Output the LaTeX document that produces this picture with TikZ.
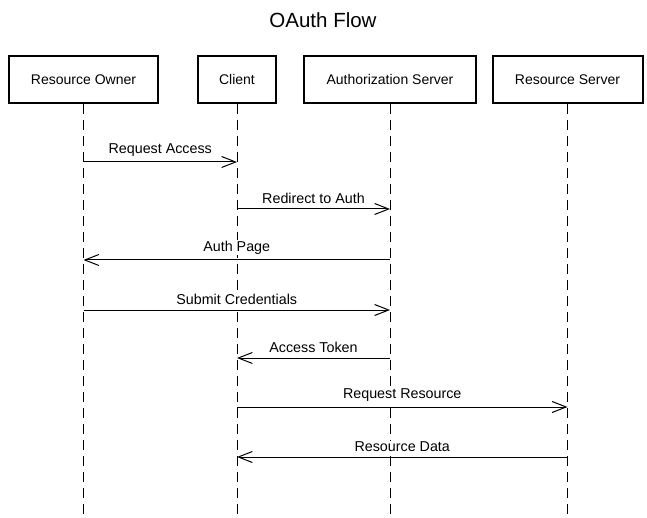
\documentclass[tikz,border=0pt]{standalone}
\usepackage{fontspec}
\setmainfont{Liberation Sans}
\usetikzlibrary{arrows.meta}
\begin{document}
\begin{tikzpicture}[x=1pt,y=-1pt,
  actor/.style={draw,line width=2pt,minimum height=47pt,inner sep=0pt,font=\fontsize{14}{16}\selectfont,anchor=north west},
  life/.style={line width=1pt,dash pattern=on 10pt off 6pt},
  msg/.style={line width=1pt,-{Straight Barb[length=14pt,width=11pt,line width=1pt]}},
  lbl/.style={font=\fontsize{14.3}{16}\selectfont,above,fill=white,inner sep=1pt,yshift=4pt}]
\useasboundingbox (0,0) rectangle (647,518);
\node[font=\fontsize{20.5}{24}\selectfont] (title) at (323,20) {OAuth Flow};
\node[actor,minimum width=149pt] (ro) at (8,55) {Resource Owner};
\node[actor,minimum width=78pt] (cl) at (197,55) {Client};
\node[actor,minimum width=172pt] (as) at (303,55) {Authorization Server};
\node[actor,minimum width=150pt] (rs) at (491.5,55) {Resource Server};
\coordinate (roE) at (ro.south |- 0,518);
\coordinate (clE) at (cl.south |- 0,518);
\coordinate (asE) at (as.south |- 0,518);
\coordinate (rsE) at (rs.south |- 0,518);
\draw[life] (ro.south) -- (roE);
\draw[life] (cl.south) -- (clE);
\draw[life] (as.south) -- (asE);
\draw[life] (rs.south) -- (rsE);
% message anchor points on lifelines
\foreach \n/\y in {1/162,2/209,3/260,4/310,5/358,6/407,7/457}{
  \coordinate (ro\n) at (ro.south |- 0,\y);
  \coordinate (cl\n) at (cl.south |- 0,\y);
  \coordinate (as\n) at (as.south |- 0,\y);
  \coordinate (rs\n) at (rs.south |- 0,\y);
}
\draw[msg] (ro1) -- node[lbl] {Request Access} (cl1);
\draw[msg] (cl2) -- node[lbl] {Redirect to Auth} (as2);
\draw[msg] (as3) -- node[lbl] {Auth Page} (ro3);
\draw[msg] (ro4) -- node[lbl] {Submit Credentials} (as4);
\draw[msg] (as5) -- node[lbl] {Access Token} (cl5);
\draw[msg] (cl6) -- node[lbl] {Request Resource} (rs6);
\draw[msg] (rs7) -- node[lbl] {Resource Data} (cl7);
\end{tikzpicture}
\end{document}
